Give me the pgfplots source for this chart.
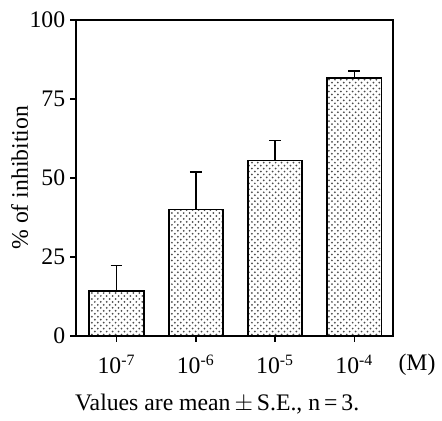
\documentclass[border=0pt]{standalone}
\usepackage{fontspec}
\setmainfont{Liberation Serif}
\usepackage{pgfplots}
\pgfplotsset{compat=1.18}
\usetikzlibrary{patterns}

\pgfplotstableread{
x mean se
0 14.2 8.0
1 40.0 11.9
2 55.5 6.3
3 81.6 2.1
}\inhib

\begin{document}
\begin{tikzpicture}[font=\fontsize{12}{14}\selectfont]
\begin{axis}[
    width=160.5pt, height=160pt, scale only axis,
    xmin=-0.51, xmax=3.49,
    ymin=0, ymax=100,
    ytick={0,25,50,75,100},
    xtick={0,1,2,3},
    xticklabels={10\textsuperscript{-7},10\textsuperscript{-6},10\textsuperscript{-5},10\textsuperscript{-4}},
    xticklabel style={yshift=-3pt},
    yticklabel style={xshift=1pt},
    /pgf/number format/assume math mode=true,
    tick align=outside,
    major tick length=3pt,
    xtick pos=bottom, ytick pos=left,
    axis line style={line width=0.8pt},
    tick style={line width=0.8pt, black},
    ylabel={\% of inhibition},
    ylabel style={at={(rel axis cs:-0.178,0.5)}, anchor=center},
    clip=false,
]
\addplot[ybar, bar width=27.5pt, draw=black, line width=0.9pt,
    pattern=crosshatch dots, pattern color=black!70,
    error bars/.cd, y dir=plus, y explicit,
    error bar style={line width=0.8pt, black},
    error mark options={rotate=90, mark size=3pt, line width=0.8pt}]
    table[x=x, y=mean, y error=se] {\inhib};
\node at (rel axis cs:1.075,-0.092) {(M)};
\node at (rel axis cs:0.445,-0.215) {Values are mean$\,\pm\,$S.E., n\,=\,3.};
\path (rel axis cs:-0.24,-0.253) rectangle (rel axis cs:1.137,1.0625);
\end{axis}
\end{tikzpicture}
\end{document}
